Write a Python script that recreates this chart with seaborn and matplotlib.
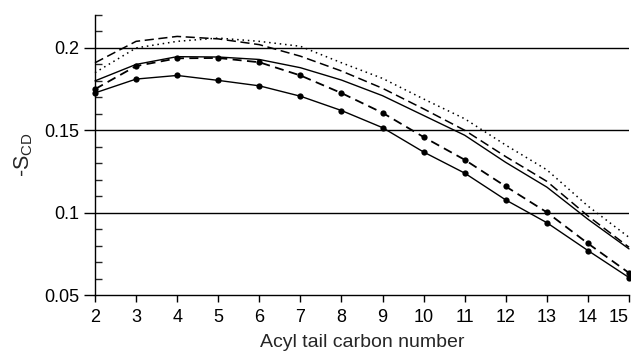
import matplotlib
matplotlib.use("Agg")
import matplotlib.pyplot as plt
import seaborn as sns
import pandas as pd
from matplotlib.ticker import MultipleLocator, FixedLocator, FixedFormatter

carbon = list(range(2, 16))
dotted_vals = [0.185, 0.200, 0.204, 0.206, 0.204, 0.201, 0.191, 0.1815, 0.169, 0.157, 0.141, 0.126, 0.104, 0.085]
dashed_vals = [0.191, 0.204, 0.207, 0.2055, 0.202, 0.195, 0.186, 0.1755, 0.163, 0.150, 0.134, 0.119, 0.098, 0.079]
solid_vals = [0.180, 0.190, 0.1947, 0.1945, 0.193, 0.188, 0.1805, 0.171, 0.159, 0.147, 0.1305, 0.1155, 0.096, 0.078]
dashed_dot_marker_vals = [0.175, 0.189, 0.1937, 0.1939, 0.1913, 0.1833, 0.1726, 0.1606, 0.1459, 0.1321, 0.1159, 0.1002, 0.0813, 0.0634]
solid_marker_vals = [0.1727, 0.1811, 0.1833, 0.1803, 0.177, 0.1707, 0.162, 0.1516, 0.1368, 0.124, 0.1077, 0.0939, 0.077, 0.0606]

ytick_vals = [0.05, 0.1, 0.15, 0.2]
ytick_labels = ["0.05", "0.1", "0.15", "0.2"]
xtick_labels = [str(c) for c in carbon]

sns.set_style("white")
plt.rcParams['font.family'] = ['Liberation Sans', 'DejaVu Sans']
plt.rcParams['mathtext.fontset'] = 'custom'
plt.rcParams['mathtext.rm'] = 'Liberation Sans'

fig = plt.figure(figsize=(6.31, 3.54), dpi=100)
ax = fig.add_axes([95/631, 1-295/354, (629-95)/631, (295-15)/354])

series = [
    (dotted_vals, dict(linestyle=(0, (1, 2.5)), linewidth=1.1, marker=None)),
    (dashed_vals, dict(linestyle=(0, (6, 3)), linewidth=1.1, marker=None)),
    (solid_vals, dict(linestyle='-', linewidth=1.0, marker=None)),
    (dashed_dot_marker_vals, dict(linestyle=(0, (5, 3)), linewidth=1.3, marker='o', markersize=4.5)),
    (solid_marker_vals, dict(linestyle='-', linewidth=1.0, marker='o', markersize=4.5)),
]

for ax_h in ytick_vals[1:]:
    ax.axhline(ax_h, color='black', linewidth=1.0, zorder=1)

for vals, kw in series:
    df = pd.DataFrame({"x": carbon, "y": vals})
    sns.lineplot(data=df, x="x", y="y", ax=ax, color='black', clip_on=False,
                 markeredgewidth=0, zorder=3, **kw)

ax.set_xlim(2, 15)
ax.set_ylim(0.05, 0.22)
ax.xaxis.set_major_locator(FixedLocator(carbon))
ax.xaxis.set_major_formatter(FixedFormatter(xtick_labels))
ax.yaxis.set_major_locator(FixedLocator(ytick_vals))
ax.yaxis.set_major_formatter(FixedFormatter(ytick_labels))
ax.yaxis.set_minor_locator(MultipleLocator(0.01))

for s in ['top', 'right']:
    ax.spines[s].set_visible(False)
for s in ['left', 'bottom']:
    ax.spines[s].set_color('black')
    ax.spines[s].set_linewidth(1.0)

ax.tick_params(axis='both', which='major', direction='out', width=1, colors='black',
               labelsize=13, left=True, bottom=True)
ax.tick_params(axis='y', which='major', length=8, pad=3)
ax.tick_params(axis='x', which='major', length=5, pad=5)
ax.tick_params(axis='y', which='minor', direction='in', length=5, width=1, left=True)

ax.set_xlabel("Acyl tail carbon number", fontsize=14, labelpad=6)
ax.set_ylabel(r"-S$_\mathregular{CD}$", fontsize=15.5, labelpad=7)

fig.canvas.draw()
ax.get_xticklabels()[-1].set_horizontalalignment('right')

fig.savefig("out.png", dpi=100)
